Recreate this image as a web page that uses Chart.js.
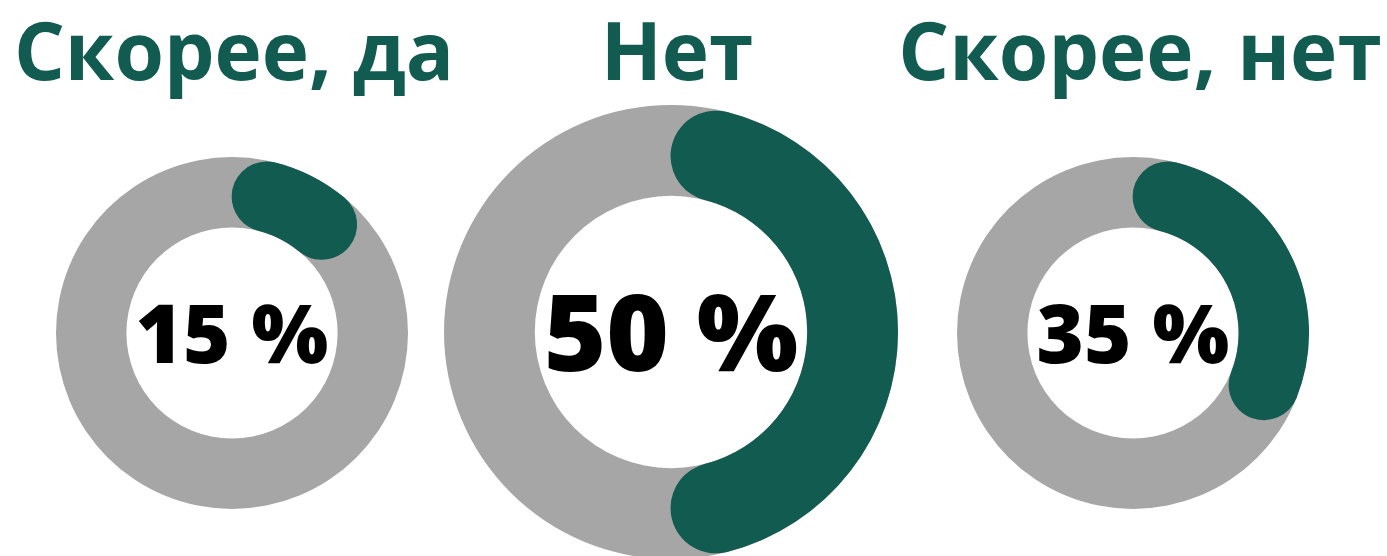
<!DOCTYPE html>
<html>
<head>
<meta charset="utf-8">
<script src="https://cdn.jsdelivr.net/npm/chart.js@4"></script>
<style>
  html, body { margin: 0; padding: 0; background: #fff; }
  body { width: 1387px; height: 556px; overflow: hidden; position: relative; font-family: "Open Sans", sans-serif; }
  .wrap { position: absolute; }
  .title, .value { position: absolute; width: 700px; text-align: center; line-height: 1; white-space: nowrap; }
  .title { color: #125b50; font-weight: 700; font-size: 80px; }
  .value { color: #000; font-weight: 800; }
</style>
</head>
<body>
<script>
const categories = ["Скорее, да", "Нет", "Скорее, нет"];
const values = [15, 50, 35];
const valueLabels = ["15 %", "50 %", "35 %"];
const totals = [100, 100, 100];

// layout (positions & sizes only)
const centersX = [232, 671, 1133];
const centersY = [333, 332, 333];
const titleCentersX = [234, 677, 1140];
const radii = [176, 227, 176];
const valueFontSizes = [81, 107, 81];
const titleFontSize = 80;

const GREEN = '#125b50';
const GRAY = '#a6a6a6';

const bgRing = {
  id: 'bgRing',
  beforeDatasetsDraw(chart) {
    const arc = chart.getDatasetMeta(0).data[0];
    if (!arc) return;
    const { x, y, innerRadius, outerRadius } = arc.getProps(['x', 'y', 'innerRadius', 'outerRadius'], true);
    const ctx = chart.ctx;
    ctx.save();
    ctx.beginPath();
    ctx.arc(x, y, outerRadius, 0, Math.PI * 2);
    ctx.arc(x, y, innerRadius, 0, Math.PI * 2, true);
    ctx.closePath();
    ctx.fillStyle = GRAY;
    ctx.fill('evenodd');
    ctx.restore();
  }
};

categories.forEach((cat, i) => {
  const r = radii[i];
  const wrap = document.createElement('div');
  wrap.className = 'wrap';
  wrap.style.left = (centersX[i] - r) + 'px';
  wrap.style.top = (centersY[i] - r) + 'px';
  wrap.style.width = (2 * r) + 'px';
  wrap.style.height = (2 * r) + 'px';
  const canvas = document.createElement('canvas');
  canvas.width = 2 * r;
  canvas.height = 2 * r;
  wrap.appendChild(canvas);
  document.body.appendChild(wrap);

  const title = document.createElement('div');
  title.className = 'title';
  title.textContent = cat;
  title.style.left = (titleCentersX[i] - 350) + 'px';
  title.style.top = (80 - 0.888 * titleFontSize) + 'px';
  document.body.appendChild(title);

  const fs = valueFontSizes[i];
  const val = document.createElement('div');
  val.className = 'value';
  val.textContent = valueLabels[i];
  val.style.fontSize = fs + 'px';
  val.style.left = (centersX[i] - 350) + 'px';
  const capH = 0.714 * fs;
  const baseline = centersY[i] + capH / 2 + 1;
  val.style.top = (baseline - 0.888 * fs) + 'px';
  document.body.appendChild(val);

  new Chart(canvas, {
    type: 'doughnut',
    data: {
      labels: [cat, ''],
      datasets: [{
        data: [values[i], totals[i] - values[i]],
        backgroundColor: [GREEN, 'rgba(0,0,0,0)'],
        borderWidth: 0,
        borderRadius: [999, 0]
      }]
    },
    options: {
      responsive: false,
      animation: false,
      events: [],
      cutout: '60%',
      layout: { padding: 0 },
      plugins: { legend: { display: false }, tooltip: { enabled: false }, title: { display: false } }
    },
    plugins: [bgRing]
  });
});
</script>
</body>
</html>
